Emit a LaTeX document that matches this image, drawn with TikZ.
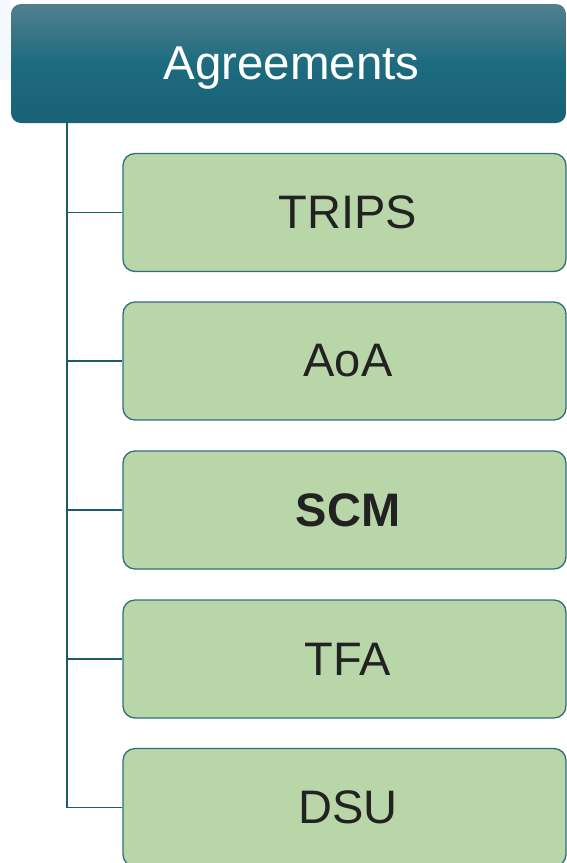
\documentclass[tikz,border=0pt]{standalone}
\usepackage{fontspec}
\setmainfont{Liberation Sans}
\definecolor{hdtop}{HTML}{537F8E}
\definecolor{hdmid}{HTML}{1D6B7F}
\definecolor{hdbot}{HTML}{1A6175}
\definecolor{boxfill}{HTML}{B9D6A8}
\definecolor{boxline}{HTML}{2F6E7C}
\definecolor{conn}{HTML}{1F5A6A}
\definecolor{txt}{HTML}{222222}
\definecolor{paleblue}{HTML}{F5F8FC}
\tikzset{
  header/.style={rounded corners=10pt, top color=hdtop, bottom color=hdbot, middle color=hdmid, draw=none, minimum width=555pt, minimum height=119pt, inner sep=0pt, text depth=0pt, text=white, font=\fontsize{47.5}{52}\selectfont},
  item/.style={rounded corners=12pt, fill=boxfill, draw=boxline, line width=1.3pt, minimum width=443pt, minimum height=118pt, inner sep=0pt, text=txt, font=\fontsize{47}{52}\selectfont},
  link/.style={draw=conn, line width=1.4pt}
}
\begin{document}
\begin{tikzpicture}[x=1pt,y=-1pt]
\useasboundingbox (0,0) rectangle (567,863);
\clip (0,0) rectangle (567,863);
\fill[paleblue] (0,0) rectangle (11,80);
\node[header] (hd) at (288.5,63.5) {\hspace*{6pt}Agreements};
\node[item] (n1) at (344.5,212.5) {\hspace*{7pt}TRIPS};
\node[item] (n2) at (344.5,361) {\hspace*{7pt}AoA};
\node[item] (n3) at (344.5,510) {\hspace*{7pt}\bfseries SCM};
\node[item] (n4) at (344.5,659) {\hspace*{7pt}TFA};
\node[item] (n5) at (344.5,807.5) {\hspace*{7pt}DSU};
\coordinate (top) at (67,123);
\draw[link] (top) |- (n5.west);
\foreach \n in {n1,n2,n3,n4}{
  \draw[link] (top |- \n.west) -- (\n.west);
}
\end{tikzpicture}
\end{document}
